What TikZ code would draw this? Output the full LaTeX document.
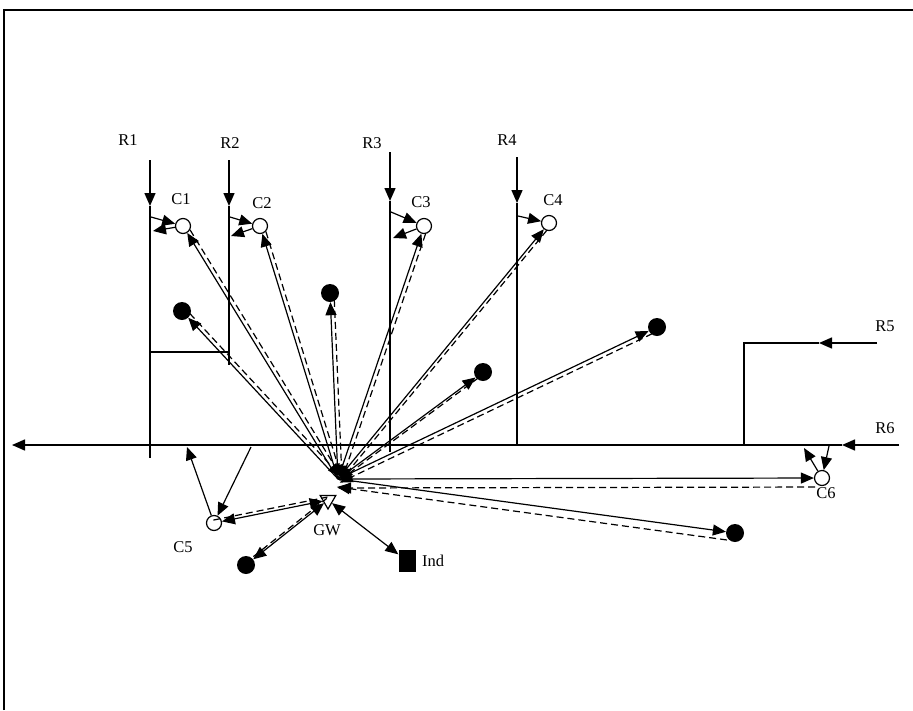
\documentclass[tikz,border=0pt]{standalone}
\usepackage{fontspec}
\setmainfont{Liberation Serif}
\usetikzlibrary{arrows.meta,calc,shapes.geometric,positioning}

\begin{document}
\begin{tikzpicture}[x=1pt, y=-1pt, >={Triangle[length=13pt,width=11pt]}]
    \tikzstyle{road}=[line width=1.5pt]
    \tikzstyle{link}=[line width=1.2pt]
    \tikzstyle{back}=[line width=1.2pt, dash pattern=on 7pt off 4pt]
    \tikzstyle{client}=[circle, draw, line width=1.2pt, fill=white, minimum size=15pt, inner sep=0pt]
    \tikzstyle{sensor}=[circle, fill=black, minimum size=18pt, inner sep=0pt]
    \tikzstyle{lbl}=[inner sep=0pt, font=\fontsize{16.5}{18}\selectfont]

    \useasboundingbox (0,0) rectangle (913,710);
    \draw[line width=1.3pt] (4,710) -- (4,10) -- (913,10);

    % roads
    \coordinate (r1-top) at (150,160);
    \coordinate (r1-mid) at (150,206);
    \coordinate (r1-bot) at (150,458);
    \coordinate (r2-top) at (229,160);
    \coordinate (r2-mid) at (229,206);
    \coordinate (r2-bot) at (229,365);
    \coordinate (r2-box) at (229,352);
    \coordinate (r1-box) at (150,352);
    \coordinate (r3-top) at (390,152);
    \coordinate (r3-mid) at (390,201);
    \coordinate (r3-bot) at (390,452);
    \coordinate (r4-top) at (517,157);
    \coordinate (r4-mid) at (517,203);
    \coordinate (r4-bot) at (517,445);
    \coordinate (r5-start) at (877,343);
    \coordinate (r5-mid) at (819,343);
    \coordinate (r5-corner) at (744,343);
    \coordinate (r5-bot) at (744,445);
    \coordinate (r6-start) at (899,445);
    \coordinate (r6-mid) at (842,445);
    \coordinate (r6-end) at (12,445);

    \draw[road,->] (r1-top) -- (r1-mid);
    \draw[road] (r1-mid) -- (r1-bot);
    \draw[road,->] (r2-top) -- (r2-mid);
    \draw[road] (r2-mid) -- (r2-bot);
    \draw[road] (r1-box) -- (r2-box);
    \draw[road,->] (r3-top) -- (r3-mid);
    \draw[road] (r3-mid) -- (r3-bot);
    \draw[road,->] (r4-top) -- (r4-mid);
    \draw[road] (r4-mid) -- (r4-bot);
    \draw[road,->] (r5-start) -- (r5-mid);
    \draw[road] (r5-mid) -- (r5-corner) -- (r5-bot);
    \draw[road,->] (r6-start) -- (r6-mid);
    \draw[road,->] (r6-mid) -- (r6-end);

    \node (R1) [lbl] at (128,140) {R1};
    \node (R2) [lbl] at (230,143) {R2};
    \node (R3) [lbl] at (372,143) {R3};
    \node (R4) [lbl] at (507,140) {R4};
    \node (R5) [lbl] at (885,326) {R5};
    \node (R6) [lbl] at (885,428) {R6};

    % clients, sensors, gateway
    \node (c1) [client] at (183,226) {};
    \node (c2) [client] at (260,226) {};
    \node (c3) [client] at (424,226) {};
    \node (c4) [client] at (549,223) {};
    \node (c5) [client] at (214,523) {};
    \node (c6) [client] at (822,478) {};
    \node (s1) [sensor] at (182,311) {};
    \node (s2) [sensor] at (330,293) {};
    \node (s3) [sensor] at (483,372) {};
    \node (s4) [sensor] at (657,327) {};
    \node (s5) [sensor] at (246,565) {};
    \node (s6) [sensor] at (735,533) {};
    \node (gw) [regular polygon, regular polygon sides=3, shape border rotate=180, draw, line width=1.2pt, fill=white, minimum size=18pt, inner sep=0pt] at (328,500) {};
    \node (ind) [fill=black, minimum width=17pt, minimum height=22pt, inner sep=0pt] at (407,561) {};
    \coordinate (hub) at (338,479);

    \node (C1) [lbl] at (181,199) {C1};
    \node (C2) [lbl] at (262,203) {C2};
    \node (C3) [lbl] at (421,202) {C3};
    \node (C4) [lbl] at (553,200) {C4};
    \node (C5) [lbl] at (183,547) {C5};
    \node (C6) [lbl] at (826,493) {C6};
    \node (GW) [lbl] at (327,530) {GW};
    \node (Ind) [lbl] at (433,561) {Ind};

    % road <-> client
    \coordinate (r1-in) at (151,217);
    \coordinate (r1-out) at (153,231);
    \coordinate (r2-in) at (230,217);
    \coordinate (r2-out) at (231,236);
    \coordinate (r3-in) at (391,212);
    \coordinate (r3-out) at (393,238);
    \coordinate (r4-in) at (518,216);
    \coordinate (r5-in) at (251,447);
    \coordinate (r5-out) at (187,447);
    \coordinate (r6-in) at (829,446);
    \coordinate (r6-out) at (804,448);
    \draw[link,->] (r1-in) -- (c1);
    \draw[link,->] (c1) -- (r1-out);
    \draw[link,->] (r2-in) -- (c2);
    \draw[link,->] (c2) -- (r2-out);
    \draw[link,->] (r3-in) -- (c3);
    \draw[link,->] (c3) -- (r3-out);
    \draw[link,->] (r4-in) -- (c4);
    \draw[link,->] (r5-in) -- (c5);
    \draw[link,->] (c5) -- (r5-out);
    \draw[link,->] (r6-in) -- (c6);
    \draw[link,->] (c6) -- (r6-out);

    % gateway links
    \foreach \n/\d in {c1/4pt, c2/4pt, c3/4pt, c4/3pt, s1/4pt, s2/4pt, s3/2pt, s4/4pt, c6/9pt, s6/8pt} {
        \draw[link,->] (hub) -- (\n);
        \draw[back,->, shorten <=7pt] ($(\n)!\d!90:(hub)$) -- ($(hub)!\d!-90:(\n)$);
    }
    \draw[link,<->] (c5) -- (gw);
    \draw[back] ($(c5)!3pt!90:(gw)$) -- ($(gw)!3pt!-90:(c5)$);
    \draw[link,<->] (s5) -- (gw);
    \draw[back] ($(s5)!2pt!90:(gw)$) -- ($(gw)!2pt!-90:(s5)$);
    \draw[link,<->] (gw) -- (ind);
\end{tikzpicture}
\end{document}
